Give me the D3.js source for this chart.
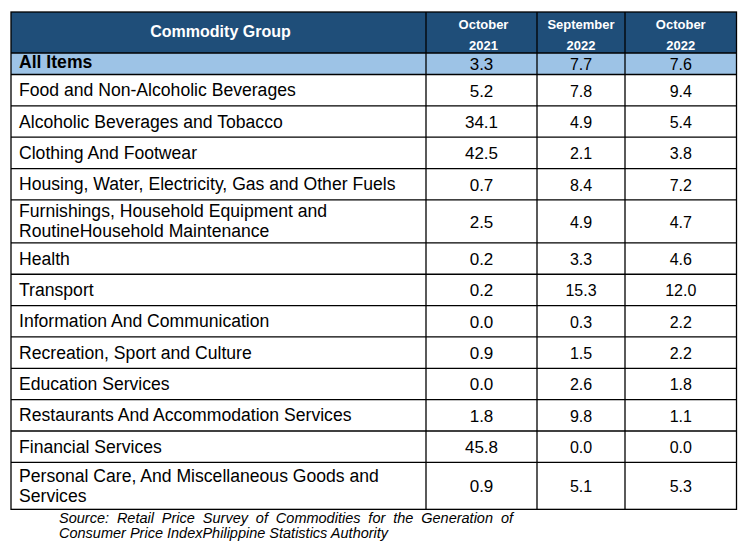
<!DOCTYPE html>
<html><head><meta charset="utf-8">
<script src="https://cdn.jsdelivr.net/npm/d3@7/dist/d3.min.js"></script>
<style>
html,body{margin:0;padding:0;background:#fff;}
svg text{font-family:"Liberation Sans",Arial,sans-serif;}
</style></head>
<body><svg id="c" width="746" height="552"></svg>
<script>
const headerLabel = "Commodity Group";
const periods = [["October","2021"],["September","2022"],["October","2022"]];
const categories = [
  "All Items",
  "Food and Non-Alcoholic Beverages",
  "Alcoholic Beverages and Tobacco",
  "Clothing And Footwear",
  "Housing, Water, Electricity, Gas and Other Fuels",
  "Furnishings, Household Equipment and RoutineHousehold Maintenance",
  "Health",
  "Transport",
  "Information And Communication",
  "Recreation, Sport and Culture",
  "Education Services",
  "Restaurants And Accommodation Services",
  "Financial Services",
  "Personal Care, And Miscellaneous Goods and Services"
];
const oct2021 = [3.3,5.2,34.1,42.5,0.7,2.5,0.2,0.2,0.0,0.9,0.0,1.8,45.8,0.9];
const sep2022 = [7.7,7.8,4.9,2.1,8.4,4.9,3.3,15.3,0.3,1.5,2.6,9.8,0.0,5.1];
const oct2022 = [7.6,9.4,5.4,3.8,7.2,4.7,4.6,12.0,2.2,2.2,1.8,1.1,0.0,5.3];
const sourceText = "Source: Retail Price Survey of Commodities for the Generation of Consumer Price IndexPhilippine Statistics Authority";

const svg = d3.select("#c");
const left = 11, right = 736.5;
const colX = [left, 426, 537, 625, right];
const tableTop = 12, headerH = 41, allH = 21.5;
const labelFs = 17.6;
const labelMax = 400;
const fmt = d3.format(".1f");

const meas = svg.append("text").attr("font-size",labelFs).attr("visibility","hidden");
function width(s){ meas.text(s); return meas.node().getComputedTextLength(); }
function wrap(s){
  const words = s.split(" "); const out=[]; let cur="";
  words.forEach(w=>{ const t = cur? cur+" "+w : w; if(width(t)>labelMax && cur){ out.push(cur); cur=w;} else cur=t; });
  out.push(cur); return out;
}
const rows = categories.map((c,i)=>({cat:c, vals:[oct2021[i],sep2022[i],oct2022[i]], lines: i===0?[c]:wrap(c), i}));
meas.remove();

let yy = tableTop + headerH;
rows.forEach((r,i)=>{
  let h;
  if(i===0) h = allH;
  else if(r.lines.length===1) h = 31.35;
  else h = (i===rows.length-1) ? 47 : 43;
  r.y = yy; r.h = h; yy += h;
});
const bottom = yy;

svg.append("rect").attr("x",left).attr("y",tableTop).attr("width",right-left).attr("height",headerH).attr("fill","#1f4e79");
svg.append("text").attr("x",(colX[0]+colX[1])/2+2).attr("y",tableTop+24.5).attr("text-anchor","middle")
  .attr("font-size",16).attr("font-weight","bold").attr("fill","#fff").text(headerLabel);
periods.forEach((p,j)=>{
  const cx=(colX[j+1]+colX[j+2])/2;
  const t=svg.append("text").attr("text-anchor","middle").attr("font-size",13).attr("font-weight","bold").attr("fill","#fff");
  t.append("tspan").attr("x",cx).attr("y",tableTop+16.5).attr("dx", j===0?2:0).text(p[0]);
  t.append("tspan").attr("x",cx).attr("y",tableTop+37.5).attr("dx", j===0?2:0).text(p[1]);
});

const g = svg.selectAll("g.row").data(rows).join("g").attr("class","row");
g.filter(d=>d.i===0).append("rect").attr("x",left).attr("y",d=>d.y).attr("width",right-left).attr("height",d=>d.h).attr("fill","#9dc3e6");
g.each(function(d){
  const sel=d3.select(this);
  const cy=d.y+d.h/2;
  const t=sel.append("text").attr("font-size",labelFs).attr("fill","#000").attr("font-weight",d.i===0?"bold":"normal");
  const n=d.lines.length;
  d.lines.forEach((l,k)=>{
    const base = d.i===0 ? cy+4.5 : cy+6 + (k-(n-1)/2)*20;
    t.append("tspan").attr("x",19).attr("y",base).text(l);
  });
  d.vals.forEach((v,j)=>{
    const cx=(colX[j+1]+colX[j+2])/2;
    sel.append("text").attr("x",cx).attr("y",d.i===0?cy+6:cy+6.5).attr("text-anchor","middle")
      .attr("font-size",j===0?17:16).attr("fill","#000").text(fmt(v));
  });
});

const grid = svg.append("g").attr("stroke","#000").attr("stroke-width",1.3).attr("fill","none");
grid.append("rect").attr("x",left).attr("y",tableTop).attr("width",right-left).attr("height",bottom-tableTop);
colX.slice(1,4).forEach(x=>grid.append("line").attr("x1",x).attr("x2",x).attr("y1",tableTop).attr("y2",bottom));
rows.forEach(r=>grid.append("line").attr("x1",left).attr("x2",right).attr("y1",r.y).attr("y2",r.y));

const srcWords = sourceText.split(" ");
const line1 = srcWords.slice(0,10), line2 = srcWords.slice(10);
const sx0=59, sx1=513, sfs=14.5;
const m2 = svg.append("text").attr("font-size",sfs).attr("font-style","italic").attr("visibility","hidden");
const ww = line1.map(w=>{ m2.text(w); return m2.node().getComputedTextLength(); });
m2.remove();
const gap = (sx1-sx0-d3.sum(ww))/(line1.length-1);
let xx=sx0;
line1.forEach((w,k)=>{
  svg.append("text").attr("x",xx).attr("y",bottom+13.5).attr("font-size",sfs).attr("font-style","italic").attr("fill","#000").text(w);
  xx+=ww[k]+gap;
});
svg.append("text").attr("x",sx0).attr("y",bottom+29).attr("font-size",sfs).attr("font-style","italic").attr("fill","#000").text(line2.join(" "));
</script></body></html>
